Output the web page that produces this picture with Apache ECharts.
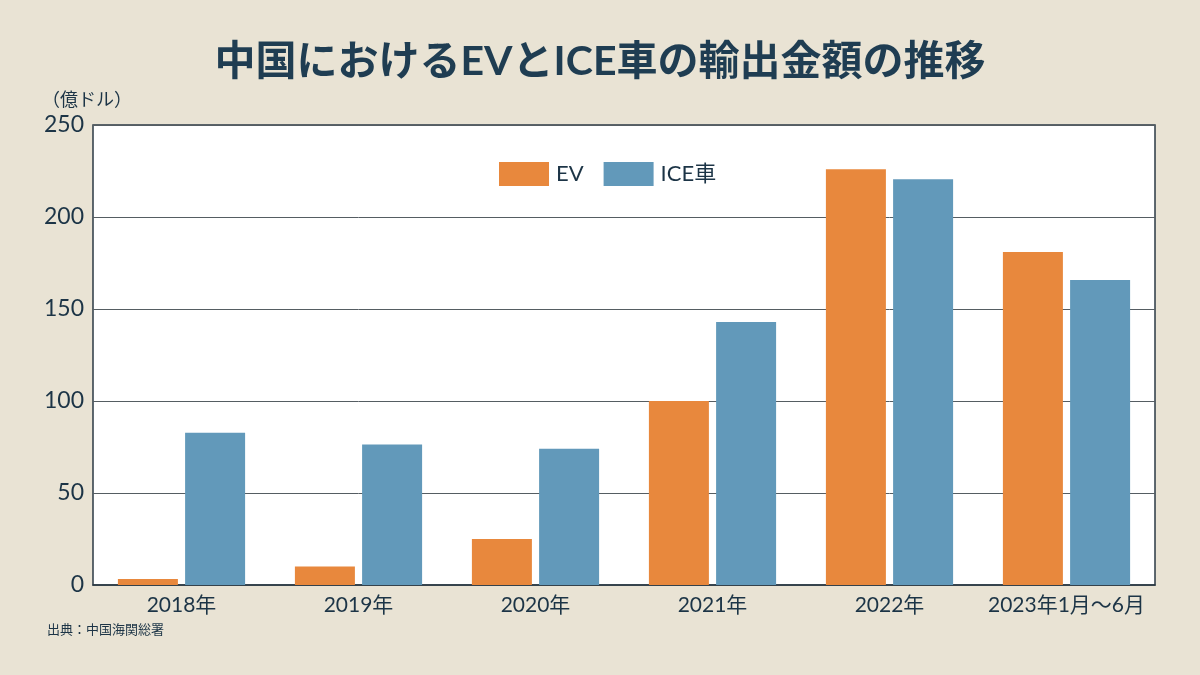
<!DOCTYPE html>
<html><head><meta charset="utf-8">
<script src="https://cdn.jsdelivr.net/npm/echarts@6/dist/echarts.min.js"></script>
<style>html,body{margin:0;padding:0;background:#e9e3d4;}#c{width:1200px;height:675px;}</style>
</head><body><div id="c"></div>
<script>
const categories = ['2018年','2019年','2020年','2021年','2022年','2023年1月〜6月'];
const evValues = [3.3, 10, 25, 100, 226, 181];
const iceValues = [82.8, 76.3, 74, 143, 220.5, 165.8];
const yTicks = [0, 50, 100, 150, 200, 250];
const FONT = '"Lato","Noto Sans CJK JP",sans-serif';
const TXT = '#1c3446';
const chart = echarts.init(document.getElementById('c'));
chart.setOption({
  backgroundColor: '#e9e3d4',
  textStyle: { fontFamily: FONT },
  title: {
    text: '中国におけるEVとICE車の輸出金額の推移',
    left: 'center', top: 36,
    textStyle: { fontFamily: FONT, fontSize: 41, fontWeight: 'bold', color: '#1f3d52' }
  },
  legend: {
    top: 157, left: 494,
    icon: 'rect',
    itemWidth: 50, itemHeight: 24, itemGap: 20,
    textStyle: { fontFamily: FONT, fontSize: 22, color: TXT, padding: [0,0,0,2] },
    data: ['EV', 'ICE車']
  },
  grid: {
    left: 93, right: 45, top: 125, bottom: 90,
    show: true, backgroundColor: '#ffffff', borderColor: '#2b3a44', borderWidth: 1.5
  },
  xAxis: {
    type: 'category', data: categories,
    axisLine: { show: true, lineStyle: { color: '#2b3a44', width: 1.5 } },
    axisTick: { show: false },
    axisLabel: { interval: 0, fontFamily: FONT, fontSize: 21, color: TXT, margin: 10 }
  },
  yAxis: {
    type: 'value', min: yTicks[0], max: yTicks[yTicks.length - 1], interval: 50,
    axisLine: { show: false }, axisTick: { show: false },
    axisLabel: { fontFamily: FONT, fontSize: 23, color: TXT, margin: 9 },
    splitLine: { lineStyle: { color: '#555d62', width: 1 } }
  },
  series: [
    { name: 'EV', type: 'bar', data: evValues, barWidth: 60, barGap: '12%',
      itemStyle: { color: '#e8883d' } },
    { name: 'ICE車', type: 'bar', data: iceValues, barWidth: 60,
      itemStyle: { color: '#6299ba' } }
  ],
  graphic: [
    { type: 'text', left: 42, top: 91, style: { text: '（億ドル）', font: '18px ' + FONT, fill: TXT } },
    { type: 'text', left: 47, top: 623, style: { text: '出典：中国海関総署', font: '13px ' + FONT, fill: TXT } }
  ]
});
</script></body></html>
